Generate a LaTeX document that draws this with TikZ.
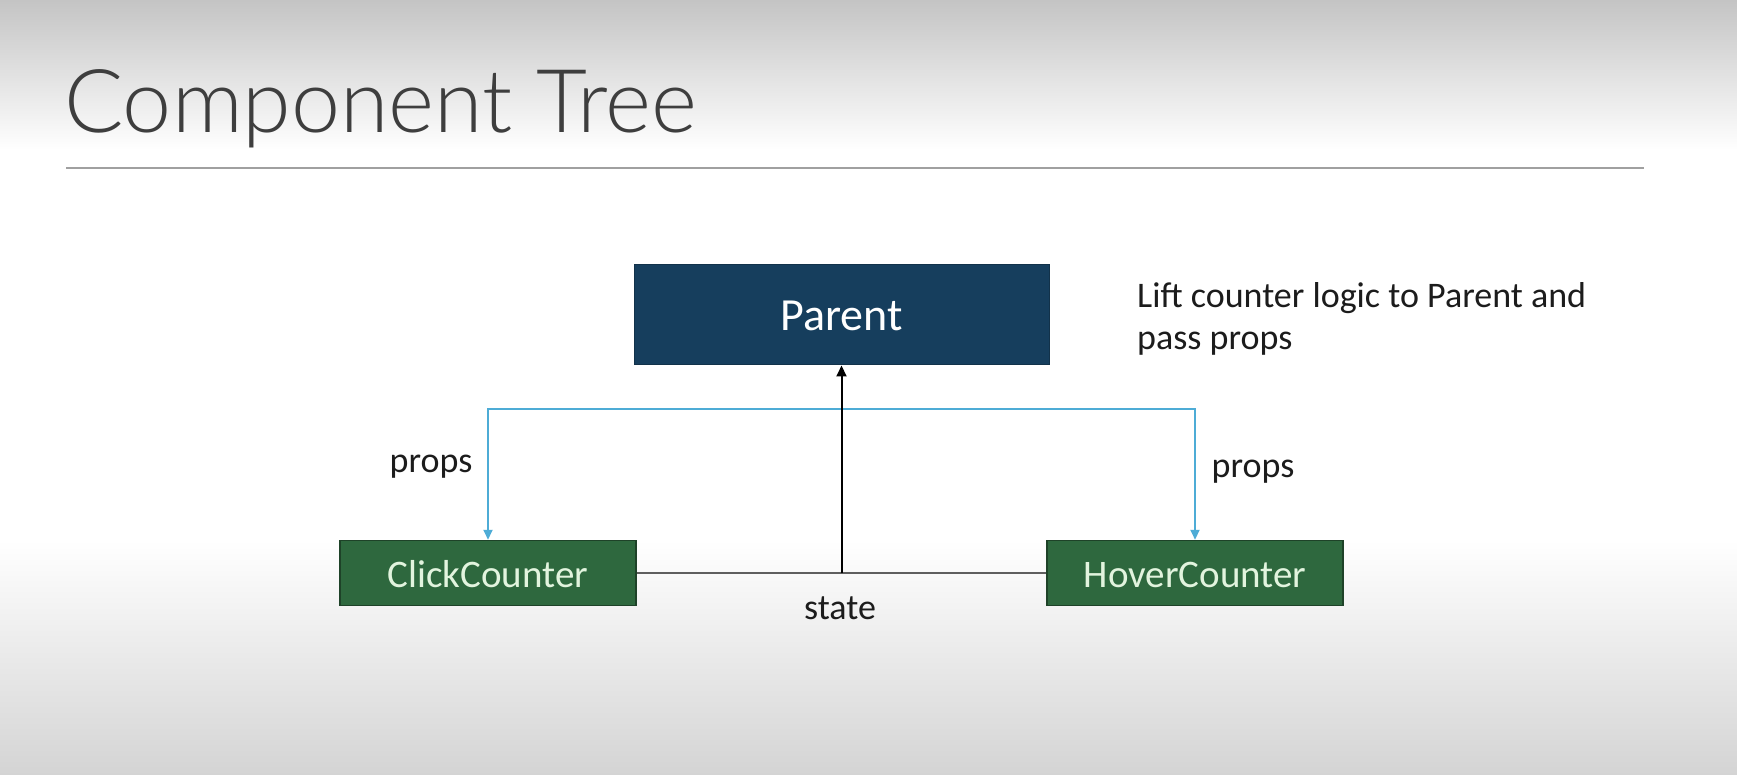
\documentclass[tikz,border=0pt]{standalone}
\usepackage{fontspec}
\setmainfont{Carlito}
\newfontfamily\titlefont{Lato}[UprightFont=* Light]
\usetikzlibrary{arrows.meta}

\definecolor{navy}{RGB}{22,62,93}
\definecolor{leaf}{RGB}{46,104,62}
\definecolor{leafedge}{RGB}{30,66,40}
\definecolor{mint}{RGB}{226,244,222}
\definecolor{sky}{RGB}{78,172,214}
\definecolor{ink}{RGB}{28,28,28}
\definecolor{titlegray}{RGB}{62,62,62}
\definecolor{rulegray}{RGB}{160,160,160}
\definecolor{bgtop}{RGB}{196,196,196}
\definecolor{bgbottom}{RGB}{212,212,212}
\definecolor{linkgray}{RGB}{95,95,95}

\tikzset{
  parentbox/.style={fill=navy, draw=navy!80!black, line width=1pt,
    minimum width=415pt, minimum height=100pt, inner sep=0pt},
  childbox/.style={fill=leaf, draw=leafedge, line width=1.5pt,
    minimum width=296pt, minimum height=65pt, inner sep=0pt},
  parenttxt/.style={anchor=base, text=white, inner sep=0pt,
    font=\fontsize{46}{55}\selectfont},
  childtxt/.style={anchor=base, text=mint, inner sep=0pt,
    font=\fontsize{39}{47}\selectfont},
  label/.style={text=ink, font=\fontsize{36}{44}\selectfont, inner sep=0pt},
  propline/.style={draw=sky, line width=2pt,
    -{Triangle[length=10pt,width=9pt]}},
  stateline/.style={draw=linkgray, line width=2pt},
  liftarrow/.style={draw=black, line width=2pt,
    -{Triangle[length=11pt,width=10pt]}},
}

\begin{document}
\begin{tikzpicture}[x=1pt,y=1pt]
  \useasboundingbox (0,0) rectangle (1737,-775);

  % slide background: grey fading to white at the top and back to grey at the bottom
  \fill[white] (0,0) rectangle (1737,-775);
  \shade[top color=bgtop, bottom color=white] (0,0) rectangle (1737,-150);
  \shade[top color=white, bottom color=bgbottom] (0,-540) rectangle (1737,-775);

  % title and rule
  \node[anchor=base west, inner sep=0pt, text=titlegray,
        font=\titlefont\fontsize{88}{104}\selectfont] (title) at (64,-133) {Component Tree};
  \draw[rulegray, line width=2pt] (66,-168) -- (1644,-168);

  % components
  \node[parentbox] (parent) at (841.5,-315) {};
  \node[parenttxt] (parenttext) at (parent.center |- 0,-331) {Parent};
  \node[childbox] (cc) at (488,-573) {};
  \node[childtxt] (cctext) at (cc.center |- 0,-587) {ClickCounter};
  \node[childbox] (hc) at (1195,-573) {};
  \node[childtxt] (hctext) at (hc.center |- 0,-587) {HoverCounter};

  % note beside the parent (base anchor sits on the last line)
  \node[label, anchor=base west, align=left] (note) at (1137,-350)
        {Lift counter logic to Parent and\\[-1.5pt]pass props};

  % props going down from the parent to both children
  \coordinate (bar) at (842,-409);
  \draw[propline] (bar) -| (cc.north);
  \draw[propline] (bar) -| (hc.north);
  \node[label, anchor=base] (propsl) at (431,-472) {props};
  \node[label, anchor=base] (propsr) at (1253,-477) {props};

  % shared state lifted up to the parent
  \coordinate (statejoin) at (parent.south |- cc.east);
  \draw[stateline] (cc.east) -- (hc.west);
  \draw[liftarrow] (statejoin) -- (parent.south);
  \node[label, anchor=base] (state) at (840,-619) {state};
\end{tikzpicture}
\end{document}
